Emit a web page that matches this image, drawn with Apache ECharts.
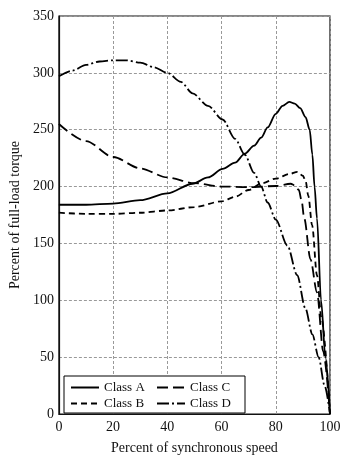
<!DOCTYPE html>
<html>
<head>
<meta charset="utf-8">
<script src="https://cdn.jsdelivr.net/npm/echarts@6/dist/echarts.min.js"></script>
<style>html,body{margin:0;padding:0;background:#fff}#c{width:344px;height:460px}</style>
</head>
<body>
<div id="c"></div>
<script>
var xTicks = [0, 20, 40, 60, 80, 100];
var yTicks = [0, 50, 100, 150, 200, 250, 300, 350];

var classAx = [0,10,20,30,40,49.3,55,60.4,65,68.6,72,74.6,77,80,82.5,85,87,89,91,92.5,93.5,94.3,95.2,96.7,98.3,100];
var classAy = [184,184,185,188,194,202.5,208,215.5,221,229,236,243,252,264,271,274.5,273,269,261,250,228,200,172,100,50,0];

var classBx = [0,10,20,30,40,50,60,65,70,75,80,85,88,90,91,92,93.4,95.2,96.8,100];
var classBy = [177,176,176,177,179,182,187,191,197,203,207,211,213,209.5,205,192,166,122,85,0];

var classCx = [0,10,20,30,40,50,60,70,80,85.5,87,88.5,89.5,90.5,92.8,95.2,97.5,100];
var classCy = [255,240,226,216,208,203,200,199.5,200.5,202.5,201,197,188,172,136,107,55,0];

var classDx = [0,5,10,15,20,25,30,35,40,45,49.3,55,60.4,65,68.6,72,74.6,77,80,84.3,87.9,90.9,93.5,95.8,98,100];
var classDy = [297,302,307,310,311,311,309,305,300,292,282,271,259,242,228,212,200,186,171,148,122,93,70,50,25,0];

function pairs(xs, ys) { return xs.map(function (x, i) { return [x, ys[i]]; }); }

var font = 'Liberation Serif';
var chart = echarts.init(document.getElementById('c'));
function mk(name, xs, ys, type, w) {
  return {
    name: name, type: 'line', data: pairs(xs, ys), symbol: 'none',
    smooth: 0.3, smoothMonotone: 'x',
    lineStyle: { color: '#000', width: w, type: type },
    itemStyle: { color: '#000' }
  };
}
chart.setOption({
  animation: false,
  backgroundColor: '#fff',
  grid: { left: 54, right: 14, top: 16, bottom: 39, show: true, borderColor: '#111', borderWidth: 1.2, backgroundColor: 'transparent' },
  xAxis: {
    type: 'value', min: 0, max: 100, interval: 20,
    name: 'Percent of synchronous speed', nameLocation: 'middle', nameGap: 27,
    nameTextStyle: { fontFamily: font, fontSize: 14, color: '#111' },
    axisLine: { lineStyle: { color: '#111', width: 1.2 } },
    axisTick: { show: false },
    axisLabel: { fontFamily: font, fontSize: 14, color: '#111', margin: 6,
      formatter: function (v) { return xTicks.indexOf(v) >= 0 ? String(v) : ''; } },
    splitLine: { lineStyle: { color: '#999', type: [3, 2], width: 1 } }
  },
  yAxis: {
    type: 'value', min: 0, max: 350, interval: 50,
    name: 'Percent of full-load torque', nameLocation: 'middle', nameGap: 36,
    nameTextStyle: { fontFamily: font, fontSize: 14, color: '#111' },
    axisLine: { lineStyle: { color: '#111', width: 1.2 } },
    axisTick: { show: false },
    axisLabel: { fontFamily: font, fontSize: 14, color: '#111', margin: 5,
      formatter: function (v) { return yTicks.indexOf(v) >= 0 ? String(v) : ''; } },
    splitLine: { lineStyle: { color: '#999', type: [3, 2], width: 1 } }
  },
  legend: {
    data: ['Class A', 'Class C', 'Class B', 'Class D'],
    left: 64, top: 376, width: 174,
    orient: 'horizontal',
    itemWidth: 28, itemHeight: 10, itemGap: 3,
    padding: [5, 6, 3, 6],
    borderColor: '#000', borderWidth: 1, backgroundColor: '#fff',
    itemStyle: { opacity: 0 },
    textStyle: { fontFamily: font, fontSize: 13, color: '#111', width: 49, lineHeight: 13 },
    z: 10
  },
  series: [
    mk('Class A', classAx, classAy, 'solid', 1.8),
    mk('Class B', classBx, classBy, [6, 4], 1.8),
    mk('Class C', classCx, classCy, [11, 5], 1.8),
    mk('Class D', classDx, classDy, [12, 3, 2, 3], 1.8)
  ]
});
</script>
</body>
</html>
